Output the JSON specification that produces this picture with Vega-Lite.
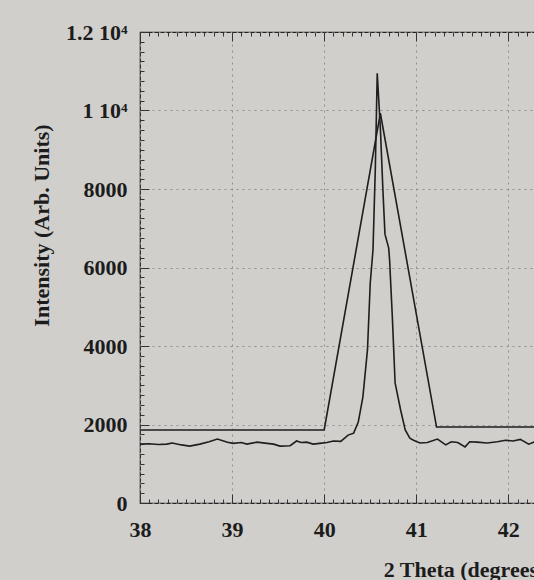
{
  "$schema": "https://vega.github.io/schema/vega-lite/v6.json",
  "autosize": {"type": "none"},
  "width": 396,
  "height": 471,
  "padding": {"left": 140, "top": 32, "right": 0, "bottom": 77},
  "background": "#d0cfcc",
  "config": {
    "view": {"stroke": "#222222", "strokeWidth": 1.2},
    "font": "Liberation Serif",
    "axis": {
      "labelFont": "Liberation Serif",
      "titleFont": "Liberation Serif",
      "labelFontWeight": "bold",
      "titleFontWeight": "bold",
      "labelColor": "#1c1c1c",
      "titleColor": "#1c1c1c",
      "tickColor": "#333333",
      "domain": false
    }
  },
  "data": {
    "values": [
      {"x": 37.9, "y": 1500, "s": "data"},
      {"x": 38.0, "y": 1500, "s": "data"},
      {"x": 38.1, "y": 1510, "s": "data"},
      {"x": 38.2, "y": 1490, "s": "data"},
      {"x": 38.29, "y": 1500, "s": "data"},
      {"x": 38.35, "y": 1530, "s": "data"},
      {"x": 38.45, "y": 1480, "s": "data"},
      {"x": 38.54, "y": 1450, "s": "data"},
      {"x": 38.65, "y": 1500, "s": "data"},
      {"x": 38.75, "y": 1560, "s": "data"},
      {"x": 38.84, "y": 1630, "s": "data"},
      {"x": 38.95, "y": 1550, "s": "data"},
      {"x": 39.01, "y": 1520, "s": "data"},
      {"x": 39.1, "y": 1540, "s": "data"},
      {"x": 39.16, "y": 1500, "s": "data"},
      {"x": 39.27, "y": 1550, "s": "data"},
      {"x": 39.38, "y": 1520, "s": "data"},
      {"x": 39.45, "y": 1500, "s": "data"},
      {"x": 39.52, "y": 1450, "s": "data"},
      {"x": 39.63, "y": 1460, "s": "data"},
      {"x": 39.7, "y": 1580, "s": "data"},
      {"x": 39.75, "y": 1540, "s": "data"},
      {"x": 39.81, "y": 1550, "s": "data"},
      {"x": 39.88, "y": 1500, "s": "data"},
      {"x": 39.95, "y": 1520, "s": "data"},
      {"x": 40.03, "y": 1540, "s": "data"},
      {"x": 40.1, "y": 1580, "s": "data"},
      {"x": 40.18, "y": 1570, "s": "data"},
      {"x": 40.26, "y": 1730, "s": "data"},
      {"x": 40.32, "y": 1780, "s": "data"},
      {"x": 40.37, "y": 2060, "s": "data"},
      {"x": 40.42, "y": 2700, "s": "data"},
      {"x": 40.47, "y": 3900, "s": "data"},
      {"x": 40.5, "y": 5600, "s": "data"},
      {"x": 40.53, "y": 6450, "s": "data"},
      {"x": 40.555, "y": 8500, "s": "data"},
      {"x": 40.576, "y": 10950, "s": "data"},
      {"x": 40.61, "y": 9550, "s": "data"},
      {"x": 40.64, "y": 7850, "s": "data"},
      {"x": 40.66, "y": 6850, "s": "data"},
      {"x": 40.7, "y": 6500, "s": "data"},
      {"x": 40.71, "y": 6200, "s": "data"},
      {"x": 40.74, "y": 4740, "s": "data"},
      {"x": 40.77, "y": 3060, "s": "data"},
      {"x": 40.83, "y": 2370, "s": "data"},
      {"x": 40.88, "y": 1860, "s": "data"},
      {"x": 40.93, "y": 1650, "s": "data"},
      {"x": 40.97, "y": 1600, "s": "data"},
      {"x": 41.04, "y": 1530, "s": "data"},
      {"x": 41.12, "y": 1540, "s": "data"},
      {"x": 41.23, "y": 1630, "s": "data"},
      {"x": 41.32, "y": 1480, "s": "data"},
      {"x": 41.38, "y": 1560, "s": "data"},
      {"x": 41.45, "y": 1540, "s": "data"},
      {"x": 41.53, "y": 1430, "s": "data"},
      {"x": 41.58, "y": 1560, "s": "data"},
      {"x": 41.66, "y": 1550, "s": "data"},
      {"x": 41.77, "y": 1530, "s": "data"},
      {"x": 41.88, "y": 1560, "s": "data"},
      {"x": 41.97, "y": 1600, "s": "data"},
      {"x": 42.05, "y": 1580, "s": "data"},
      {"x": 42.13, "y": 1620, "s": "data"},
      {"x": 42.22, "y": 1500, "s": "data"},
      {"x": 42.3, "y": 1570, "s": "data"},
      {"x": 42.4, "y": 1550, "s": "data"},
      {"x": 37.9, "y": 1860, "s": "fit"},
      {"x": 40.0, "y": 1860, "s": "fit"},
      {"x": 40.61, "y": 9930, "s": "fit"},
      {"x": 41.22, "y": 1935, "s": "fit"},
      {"x": 42.4, "y": 1935, "s": "fit"}
    ]
  },
  "resolve": {"axis": {"x": "independent", "y": "independent"}},
  "layer": [
    {
      "mark": {"type": "line", "color": "#1e1e1e", "strokeWidth": 1.6, "clip": true},
      "encoding": {
        "x": {"field": "x", "type": "quantitative",
          "scale": {"domain": [38, 42.3], "nice": false, "zero": false},
          "axis": {"orient": "bottom", "values": [38, 39, 40, 41, 42], "ticks": false,
            "labelFontSize": 22, "labelPadding": 16, "labelFlush": false,
            "grid": true, "gridColor": "#8f8f8f", "gridDash": [2, 4], "gridWidth": 1,
            "title": "2 Theta (degrees)", "titleFontSize": 22, "titleX": 324, "titleY": 56, "titleBaseline": "top", "titleAnchor": "middle"}},
        "y": {"field": "y", "type": "quantitative",
          "scale": {"domain": [0, 12000], "nice": false},
          "axis": {"orient": "left", "values": [0, 2000, 4000, 6000, 8000, 10000, 12000], "ticks": false,
            "labelFontSize": 22, "labelPadding": 13, "labelFlush": false,
            "labelExpr": "datum.value == 12000 ? '1.2 10⁴' : (datum.value == 10000 ? '1 10⁴' : format(datum.value, 'd'))",
            "grid": true, "gridColor": "#8f8f8f", "gridDash": [2, 4], "gridWidth": 1,
            "title": "Intensity (Arb. Units)", "titleFontSize": 22, "titleX": -87, "titleY": 193, "titleAngle": -90, "titleAlign": "center", "titleBaseline": "bottom"}},
        "detail": {"field": "s"}
      }
    },
    {
      "mark": {"type": "point", "opacity": 0},
      "encoding": {
        "x": {"field": "x", "type": "quantitative",
          "axis": {"orient": "bottom", "values": [38, 38.1, 38.2, 38.3, 38.4, 38.5, 38.6, 38.7, 38.8, 38.9, 39, 39.1, 39.2, 39.3, 39.4, 39.5, 39.6, 39.7, 39.8, 39.9, 40, 40.1, 40.2, 40.3, 40.4, 40.5, 40.6, 40.7, 40.8, 40.9, 41, 41.1, 41.2, 41.3, 41.4, 41.5, 41.6, 41.7, 41.8, 41.9, 42, 42.1, 42.2, 42.3],
            "tickSize": -4, "labels": false, "grid": false, "title": null}},
        "y": {"field": "y", "type": "quantitative",
          "axis": {"orient": "left", "values": [0, 250, 500, 750, 1000, 1250, 1500, 1750, 2000, 2250, 2500, 2750, 3000, 3250, 3500, 3750, 4000, 4250, 4500, 4750, 5000, 5250, 5500, 5750, 6000, 6250, 6500, 6750, 7000, 7250, 7500, 7750, 8000, 8250, 8500, 8750, 9000, 9250, 9500, 9750, 10000, 10250, 10500, 10750, 11000, 11250, 11500, 11750, 12000],
            "tickSize": -4, "labels": false, "grid": false, "title": null}}
      }
    },
    {
      "mark": {"type": "point", "opacity": 0},
      "encoding": {
        "x": {"field": "x", "type": "quantitative",
          "axis": {"orient": "bottom", "values": [38, 39, 40, 41, 42], "tickSize": -9, "labels": false, "grid": false, "title": null}},
        "y": {"field": "y", "type": "quantitative",
          "axis": {"orient": "left", "values": [0, 2000, 4000, 6000, 8000, 10000, 12000], "tickSize": -9, "labels": false, "grid": false, "title": null}}
      }
    },
    {
      "mark": {"type": "point", "opacity": 0},
      "encoding": {
        "x": {"field": "x", "type": "quantitative",
          "axis": {"orient": "top", "values": [38, 38.1, 38.2, 38.3, 38.4, 38.5, 38.6, 38.7, 38.8, 38.9, 39, 39.1, 39.2, 39.3, 39.4, 39.5, 39.6, 39.7, 39.8, 39.9, 40, 40.1, 40.2, 40.3, 40.4, 40.5, 40.6, 40.7, 40.8, 40.9, 41, 41.1, 41.2, 41.3, 41.4, 41.5, 41.6, 41.7, 41.8, 41.9, 42, 42.1, 42.2, 42.3],
            "tickSize": -4, "labels": false, "grid": false, "title": null}},
        "y": {"field": "y", "type": "quantitative", "axis": null}
      }
    },
    {
      "mark": {"type": "point", "opacity": 0},
      "encoding": {
        "x": {"field": "x", "type": "quantitative",
          "axis": {"orient": "top", "values": [38, 39, 40, 41, 42], "tickSize": -9, "labels": false, "grid": false, "title": null}},
        "y": {"field": "y", "type": "quantitative", "axis": null}
      }
    }
  ]
}
